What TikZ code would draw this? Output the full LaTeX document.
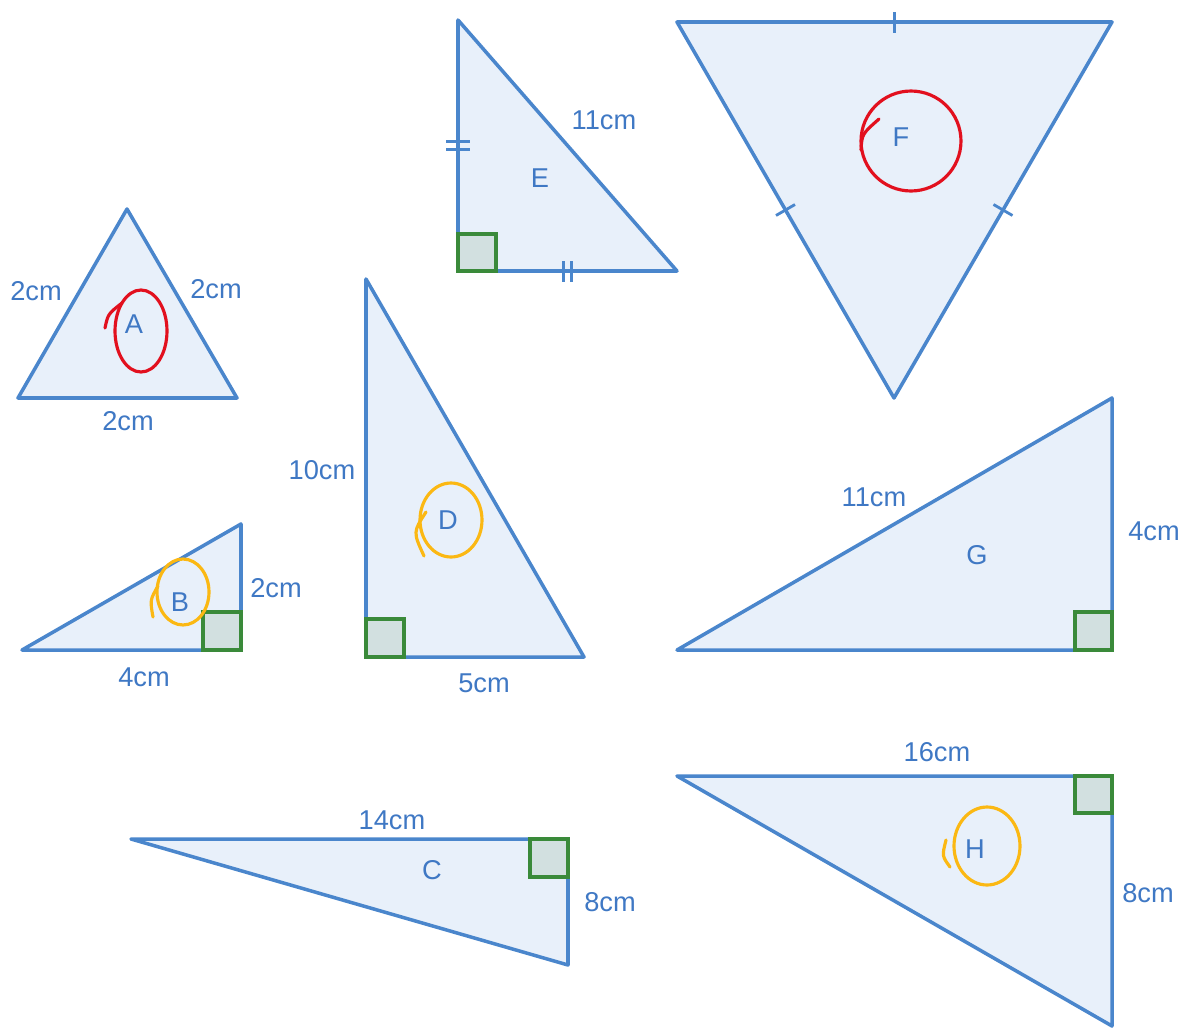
\documentclass[tikz,border=0pt]{standalone}
\usepackage{fontspec}
\setmainfont{Liberation Sans}
\usepackage{xcolor}
\usetikzlibrary{calc}
\definecolor{edgeblue}{HTML}{4A86CC}
\definecolor{fillblue}{HTML}{E8F0FA}
\definecolor{labelblue}{HTML}{3F78C4}
\definecolor{sqgreen}{HTML}{3A8A3A}
\definecolor{sqfill}{HTML}{D2E0E0}
\definecolor{markred}{HTML}{E2101E}
\definecolor{markorange}{HTML}{FBB813}

\begin{document}
\begin{tikzpicture}[x=0.02cm,y=-0.02cm,
  tri/.style={draw=edgeblue,fill=fillblue,line width=2pt,line join=round},
  rangle/.style={draw=sqgreen,fill=sqfill,line width=2pt},
  tick/.style={draw=edgeblue,line width=1.6pt},
  lbl/.style={text=labelblue,font=\fontsize{15.5}{17}\selectfont,inner sep=0pt},
  redring/.style={draw=markred,line width=1.8pt,line cap=round},
  orangering/.style={draw=markorange,line width=1.8pt,line cap=round}]
\useasboundingbox (0,0) rectangle (1184,1028);
% vertices, in picture pixels
\coordinate (A1) at (18,398);   \coordinate (A2) at (127,209);  \coordinate (A3) at (237,398);
\coordinate (B1) at (22,650);   \coordinate (B2) at (241,524);  \coordinate (B3) at (241,650);
\coordinate (C1) at (131,839);  \coordinate (C2) at (568,839);  \coordinate (C3) at (568,965);
\coordinate (D1) at (366,279);  \coordinate (D2) at (366,657);  \coordinate (D3) at (584,657);
\coordinate (E1) at (458,20);   \coordinate (E2) at (458,271);  \coordinate (E3) at (677,271);
\coordinate (F1) at (677,22);   \coordinate (F2) at (1112,22);  \coordinate (F3) at (894,398);
\coordinate (G1) at (677,650);  \coordinate (G2) at (1112,398); \coordinate (G3) at (1112,650);
\coordinate (H1) at (677,776);  \coordinate (H2) at (1112,776); \coordinate (H3) at (1112,1026);
% triangles
\draw[tri] (A1) -- (A2) -- (A3) -- cycle;
\draw[tri] (B1) -- (B2) -- (B3) -- cycle;
\draw[tri] (C1) -- (C2) -- (C3) -- cycle;
\draw[tri] (D1) -- (D2) -- (D3) -- cycle;
\draw[tri] (E1) -- (E2) -- (E3) -- cycle;
\draw[tri] (F1) -- (F2) -- (F3) -- cycle;
\draw[tri] (G1) -- (G2) -- (G3) -- cycle;
\draw[tri] (H1) -- (H2) -- (H3) -- cycle;
% right angles
\draw[rangle] (B3) rectangle ++(-38,-38);
\draw[rangle] (C2) rectangle ++(-38,38);
\draw[rangle] (D2) rectangle ++(38,-38);
\draw[rangle] (E2) rectangle ++(38,-37);
\draw[rangle] (G3) rectangle ++(-37,-38);
\draw[rangle] (H2) rectangle ++(-37,37);
% equal-side ticks
\coordinate (El) at ($(E1)!0.5!(E2)$);
\coordinate (Eb) at ($(E2)!0.5!(E3)$);
\draw[tick] ($(El)+(-12,-4)$) -- ++(24,0) ($(El)+(-12,4)$) -- ++(24,0);
\draw[tick] ($(Eb)+(-4,-10)$) -- ++(0,21) ($(Eb)+(4,-10)$) -- ++(0,21);
\coordinate (Ft) at ($(F1)!0.5!(F2)$);
\coordinate (Fl) at ($(F1)!0.5!(F3)$);
\coordinate (Fr) at ($(F2)!0.5!(F3)$);
\draw[tick] ($(Ft)+(0,-10)$) -- ++(0,21);
\draw[tick] ($(Fl)!0.22cm!90:(F3)$) -- ($(Fl)!0.22cm!-90:(F3)$);
\draw[tick] ($(Fr)!0.22cm!90:(F3)$) -- ($(Fr)!0.22cm!-90:(F3)$);
% side lengths
\node[lbl] (lAl) at (36,291)   {2cm};
\node[lbl] (lAr) at (216,289)  {2cm};
\node[lbl] (lAb) at (128,421)  {2cm};
\node[lbl] (lBr) at (276,588)  {2cm};
\node[lbl] (lBb) at (144,677)  {4cm};
\node[lbl] (lCt) at (392,820)  {14cm};
\node[lbl] (lCr) at (610,902)  {8cm};
\node[lbl] (lDl) at (322,470)  {10cm};
\node[lbl] (lDb) at (484,683)  {5cm};
\node[lbl] (lEh) at (604,120)  {11cm};
\node[lbl] (lGh) at (874,497)  {11cm};
\node[lbl] (lGr) at (1154,531) {4cm};
\node[lbl] (lHt) at (937,752)  {16cm};
\node[lbl] (lHr) at (1148,893) {8cm};
% shape letters
\node[lbl] (nA) at (134,324) {A};
\node[lbl] (nB) at (180,602) {B};
\node[lbl] (nC) at (432,870) {C};
\node[lbl] (nD) at (448,520) {D};
\node[lbl] (nE) at (540,178) {E};
\node[lbl] (nF) at (901,137) {F};
\node[lbl] (nG) at (977,555) {G};
\node[lbl] (nH) at (975,849) {H};
% hand-drawn rings
\draw[redring] (141,331) ellipse [x radius=0.52cm,y radius=0.82cm];
\draw[redring] (105,328) .. controls (108,314) .. (122,303);
\draw[redring] (911,141) ellipse [x radius=1.0cm,y radius=1.0cm];
\draw[redring] (861,150) .. controls (862,134) .. (879,119);
\draw[orangering] (183,592) ellipse [x radius=0.52cm,y radius=0.66cm];
\draw[orangering] (158,586) .. controls (150,600) .. (153,617);
\draw[orangering] (451,520) ellipse [x radius=0.62cm,y radius=0.74cm];
\draw[orangering] (426,512) .. controls (413,532) .. (424,556);
\draw[orangering] (987,846) ellipse [x radius=0.66cm,y radius=0.78cm];
\draw[orangering] (946,840) .. controls (942,856) .. (950,867);
\end{tikzpicture}
\end{document}
